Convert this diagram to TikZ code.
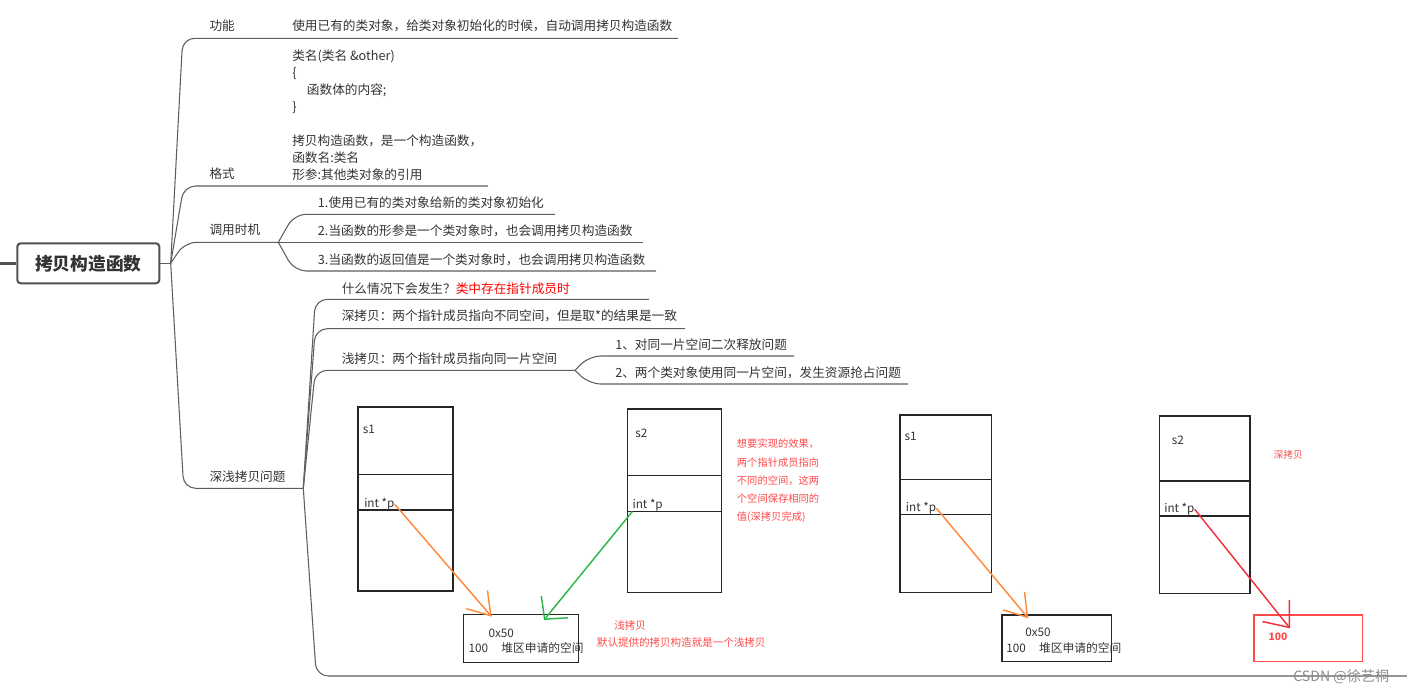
\documentclass[tikz,border=0pt]{standalone}
\usepackage{fontspec}
\setmainfont{Noto Sans CJK SC}
\usepackage{xcolor}
\usepackage{tikz}
\usetikzlibrary{arrows.meta,calc}

\definecolor{linegray}{HTML}{5E5E5E}
\definecolor{rootgray}{HTML}{505050}
\definecolor{txtgray}{HTML}{333333}
\definecolor{notered}{HTML}{FF4A4A}
\definecolor{hired}{HTML}{FF0000}
\definecolor{ptrorange}{HTML}{FF8A3D}
\definecolor{ptrgreen}{HTML}{2DB84B}
\definecolor{ptrred}{HTML}{F0303F}

\begin{document}
\begin{tikzpicture}[
    x=0.75pt,y=-0.75pt,
    root/.style={draw=rootgray, line width=1.5pt, rounded corners=2.5pt, minimum width=106.5pt,
                 minimum height=30pt, inner sep=0pt, font=\fontsize{13.3}{16}\selectfont\bfseries, text=txtgray},
    topic/.style={anchor=west, inner sep=0pt, font=\fontsize{9.5}{12.75}\selectfont, text=txtgray},
    link/.style={draw=linegray, line width=0.8pt, rounded corners=9pt},
    mem/.style={draw=black!85, line width=1.1pt, inner sep=0pt},
    small/.style={anchor=west, inner sep=0pt, font=\fontsize{8.8}{10}\selectfont, text=txtgray},
    note/.style={anchor=west, inner sep=0pt, align=left, text=notered, font=\fontsize{7.7}{13.7}\selectfont},
    ptr/.style={line width=1.1pt, -{Straight Barb[length=16pt,width=21pt]}}
]
\useasboundingbox (0,0) rectangle (1407,693);

% root and hubs
\node[root] (root) at (88.3,263.3) {拷贝构造函数};
\draw[rootgray, line width=2.2pt] (0,263.3) -- (root.west);
\coordinate (hub) at (170.7,263.3);
\coordinate (callhub) at (278.3,242.3);
\coordinate (copyhub) at (303.3,488.3);
\coordinate (shallowhub) at (575,370.3);
\draw[link] (root.east) -- (hub);

% first level
\coordinate (gn-e) at (678,38.3);
\coordinate (gs-e) at (488,186);
\draw[link] (hub) -- ($(hub|-gn-e)+(12,0)$) -- (gn-e);
\draw[link] (hub) -- ($(hub|-gs-e)+(13,0)$) -- (gs-e);
\draw[link] (hub) -- ($(hub|-callhub)+(14,0)$) -- (callhub);
\draw[link] (hub) -- ($(hub|-copyhub)+(13,0)$) -- (copyhub);

\node[topic] (gn) at (209.3,26) {功能};
\node[topic] (gn-t) at (292,26) {使用已有的类对象，给类对象初始化的时候，自动调用拷贝构造函数};
\node[topic] (gs) at (209.3,174) {格式};
\node[topic, align=left] (gs-t) at (292,115) {类名(类名 \&other)\\\{\\\hspace*{11pt}函数体的内容;\\\}\\[12.75pt]拷贝构造函数，是一个构造函数，\\函数名:类名\\形参:其他类对象的引用};
\node[topic] (call) at (209.3,230) {调用时机};
\node[topic] (copy) at (209.3,476.7) {深浅拷贝问题};

% call timing
\coordinate (c1-e) at (555,214.3);
\coordinate (c2-e) at (643,242.3);
\coordinate (c3-e) at (656,271);
\draw[link] (callhub) -- ($(callhub|-c1-e)+(16,0)$) -- (c1-e);
\draw[link] (callhub) -- (c2-e);
\draw[link] (callhub) -- ($(callhub|-c3-e)+(16,0)$) -- (c3-e);
\node[topic] (c1) at (317.7,202.3) {1.使用已有的类对象给新的类对象初始化};
\node[topic] (c2) at (317.7,231) {2.当函数的形参是一个类对象时，也会调用拷贝构造函数};
\node[topic] (c3) at (317.7,260) {3.当函数的返回值是一个类对象时，也会调用拷贝构造函数};

% deep / shallow copy
\coordinate (q-e) at (649,299.3);
\coordinate (d-e) at (685,328.7);
\coordinate (pic-e) at (1407,676);
\draw[link] (copyhub) -- ($(copyhub|-q-e)+(12,0)$) -- (q-e);
\draw[link] (copyhub) -- ($(copyhub|-d-e)+(12,0)$) -- (d-e);
\draw[link] (copyhub) -- ($(copyhub|-shallowhub)+(12,0)$) -- (shallowhub);
\draw[link] (copyhub) -- ($(copyhub|-pic-e)+(13,0)$) -- (pic-e);
\node[topic] (q) at (341.5,289) {什么情况下会发生？\textcolor{hired}{类中存在指针成员时}};
\node[topic] (d) at (341.5,316) {深拷贝：两个指针成员指向不同空间，但是取*的结果是一致};
\node[topic] (s) at (341.5,359) {浅拷贝：两个指针成员指向同一片空间};

\coordinate (s1-e) at (794,356);
\coordinate (s2-e) at (908,384);
\draw[link] (shallowhub) -- ($(shallowhub|-s1-e)+(14,0)$) -- (s1-e);
\draw[link] (shallowhub) -- ($(shallowhub|-s2-e)+(14,0)$) -- (s2-e);
\node[topic] (s1) at (615,345) {1、对同一片空间二次释放问题};
\node[topic] (s2) at (615,373.3) {2、两个类对象使用同一片空间，发生资源抢占问题};

% memory pictures
\node[mem, minimum width=71.25pt, minimum height=138pt] (objA) at (405.5,499) {};
\node[mem, minimum width=71.25pt, minimum height=26.6pt] (objA-row) at (405.5,492.3) {};
\node[small] (objA-n) at (362.7,429) {s1};
\node[small] (objA-p) at (364,504.3) {int *p};

\node[mem, minimum width=70.8pt, minimum height=137.5pt] (objB) at (674.5,500.7) {};
\node[mem, minimum width=70.8pt, minimum height=27pt] (objB-row) at (674.5,493.7) {};
\node[small] (objB-n) at (635,433) {s2};
\node[small] (objB-p) at (632.3,505.3) {int *p};

\node[mem, minimum width=86.25pt, minimum height=36.3pt] (heapA) at (520.8,638.5) {};
\node[small] (heapA-a) at (488.3,633.3) {0x50};
\node[small] (heapA-v) at (468.3,648.3) {100\hspace{10pt}堆区申请的空间};

\node[mem, minimum width=68.5pt, minimum height=133pt] (objC) at (945.7,503.7) {};
\node[mem, minimum width=68.5pt, minimum height=26.25pt] (objC-row) at (945.7,496.8) {};
\node[small] (objC-n) at (904.3,436) {s1};
\node[small] (objC-p) at (905.7,508.3) {int *p};

\node[mem, minimum width=68pt, minimum height=133pt] (objD) at (1204.7,504.7) {};
\node[mem, minimum width=68pt, minimum height=26.25pt] (objD-row) at (1204.7,498.5) {};
\node[small] (objD-n) at (1171.7,440) {s2};
\node[small] (objD-p) at (1164,509.3) {int *p};

\node[mem, minimum width=82.3pt, minimum height=35pt] (heapB) at (1056.8,638.3) {};
\node[small] (heapB-a) at (1025,632.7) {0x50};
\node[small] (heapB-v) at (1006,648.3) {100\hspace{10pt}堆区申请的空间};

\node[draw=notered, line width=1pt, minimum width=81.2pt, minimum height=35pt] (heapC) at (1308.2,638.3) {};
\node[note, font=\fontsize{7.7}{10}\selectfont\bfseries] (heapC-v) at (1268.3,636.7) {100};

% pointers
\coordinate (heapA-in) at (491.7,616.7);
\coordinate (heapA-in2) at (544,620);
\coordinate (heapB-in) at (1028.3,618.3);
\coordinate (heapC-in) at (1290,628.3);
\draw[ptr, ptrorange] (objA-p.east) -- (heapA-in);
\draw[ptr, ptrgreen, -{Straight Barb[length=12pt,width=26pt]}] (objB-p.south west) -- (heapA-in2);
\draw[ptr, ptrorange] (objC-p.east) -- (heapB-in);
\draw[ptr, ptrred, -{Straight Barb[length=16pt,width=26pt]}] (objD-p.east) -- (heapC-in);

% notes
\node[note] (want) at (736.7,481) {想要实现的效果，\\两个指针成员指向\\不同的空间，这两\\个空间保存相同的\\值(深拷贝完成)};
\node[note, font=\fontsize{7.9}{10}\selectfont] (shallow) at (614,625) {浅拷贝};
\node[note, font=\fontsize{7.9}{10}\selectfont] (default) at (596.7,642.7) {默认提供的拷贝构造就是一个浅拷贝};
\node[note, font=\fontsize{7.3}{10}\selectfont] (deep) at (1273.3,454.3) {深拷贝};

\node[anchor=west, inner sep=0pt, text=black!45, font=\fontsize{10.6}{12}\selectfont] (mark) at (1293,677) {CSDN @徐艺桐};
\end{tikzpicture}
\end{document}
